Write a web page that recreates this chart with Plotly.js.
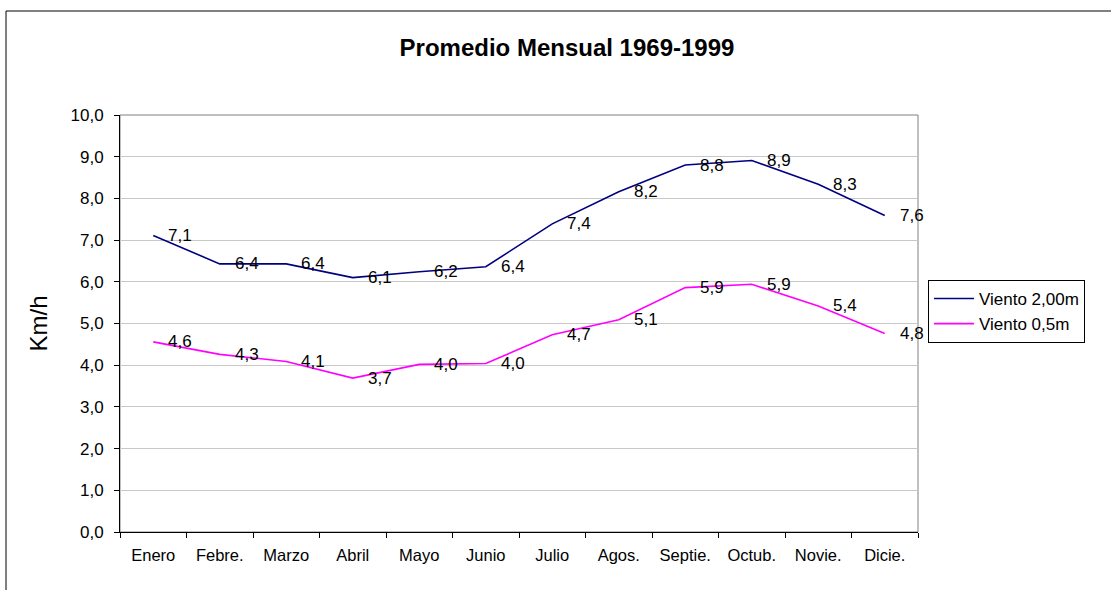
<!DOCTYPE html>
<html>
<head>
<meta charset="utf-8">
<script src="https://cdn.plot.ly/plotly-3.0.1.min.js"></script>
<style>
  body { margin: 0; background: #fff; }
  #chart { width: 1111px; height: 590px; }
</style>
</head>
<body>
<div id="chart"></div>
<script>
var months = ["Enero", "Febre.", "Marzo", "Abril", "Mayo", "Junio",
              "Julio", "Agos.", "Septie.", "Octub.", "Novie.", "Dicie."];

var viento200 = [7.11, 6.43, 6.43, 6.10, 6.24, 6.36, 7.39, 8.16, 8.80, 8.91, 8.34, 7.59];
var viento05 = [4.56, 4.26, 4.09, 3.69, 4.02, 4.04, 4.73, 5.09, 5.86, 5.94, 5.42, 4.76];

var FONT = "Liberation Sans, Arial, sans-serif";

// etiquetas con coma decimal
function fmt(v) { return v.toFixed(1).replace(".", ","); }

var trace1 = {
    x: months,
    y: viento200,
    type: "scatter",
    mode: "lines",
    name: "Viento 2,00m",
    line: {color: "#000080", width: 1.6}
};

var trace2 = {
    x: months,
    y: viento05,
    type: "scatter",
    mode: "lines",
    name: "Viento 0,5m",
    line: {color: "#ff00ff", width: 1.6}
};

var labels = [];
[viento200, viento05].forEach(function(serie) {
    serie.forEach(function(v, i) {
        labels.push({
            x: months[i], y: v, text: fmt(v),
            xref: "x", yref: "y",
            showarrow: false, xanchor: "left", yanchor: "middle",
            xshift: 13,
            font: {family: FONT, size: 17, color: "#000"}
        });
    });
});

// plot area 120..918 x 115..532 px
var L = 120, R = 918, T = 115, B = 532;
var pw = R - L, ph = B - T;

var layout = {
    width: 1111,
    height: 590,
    margin: {l: L, r: 1111 - R, t: T, b: 590 - B},
    paper_bgcolor: "#fff",
    plot_bgcolor: "#fff",
    font: {family: FONT, size: 16, color: "#000"},
    title: {
        text: "<b>Promedio Mensual 1969-1999</b>",
        font: {family: FONT, size: 24, color: "#000"},
        x: 567 / 1111, xanchor: "center",
        y: 1 - 48 / 590, yanchor: "middle"
    },
    xaxis: {
        type: "category",
        range: [-0.5, 11.5],
        showline: true, linecolor: "#000", linewidth: 1,
        ticks: "outside", tickson: "boundaries", ticklen: 5, tickcolor: "#000",
        ticklabelstandoff: 8,
        showgrid: false,
        tickfont: {family: FONT, size: 16.5},
        fixedrange: true
    },
    yaxis: {
        range: [0, 10],
        dtick: 1,
        tickformat: ".1f",
        showline: true, linecolor: "#000", linewidth: 1,
        ticks: "outside", ticklen: 5, tickcolor: "#000",
        ticklabelstandoff: 7,
        gridcolor: "#c8c8c8", gridwidth: 1,
        zeroline: false,
        tickfont: {family: FONT, size: 17},
        title: {text: "Km/h", font: {family: FONT, size: 24}, standoff: 16},
        fixedrange: true
    },
    separators: ", ",
    showlegend: true,
    legend: {
        x: (928 - L) / pw, xanchor: "left",
        y: (B - 280) / ph, yanchor: "top",
        bordercolor: "#000", borderwidth: 1,
        bgcolor: "#fff",
        font: {family: FONT, size: 17},
        itemwidth: 40,
        tracegroupgap: 0
    },
    annotations: labels,
    shapes: [
        // borde gris del área de trazado
        {type: "rect", xref: "paper", yref: "paper", x0: 0, x1: 1, y0: 0, y1: 1,
         line: {color: "#808080", width: 1}, layer: "below"},
        // marco exterior del gráfico
        {type: "rect", xref: "paper", yref: "paper",
         x0: (6 - L) / pw, x1: (1200 - L) / pw,
         y0: (B - 700) / ph, y1: (B - 11) / ph,
         line: {color: "#000", width: 1}, layer: "below"}
    ]
};

Plotly.newPlot("chart", [trace1, trace2], layout, {displayModeBar: false, staticPlot: true});
</script>
</body>
</html>
